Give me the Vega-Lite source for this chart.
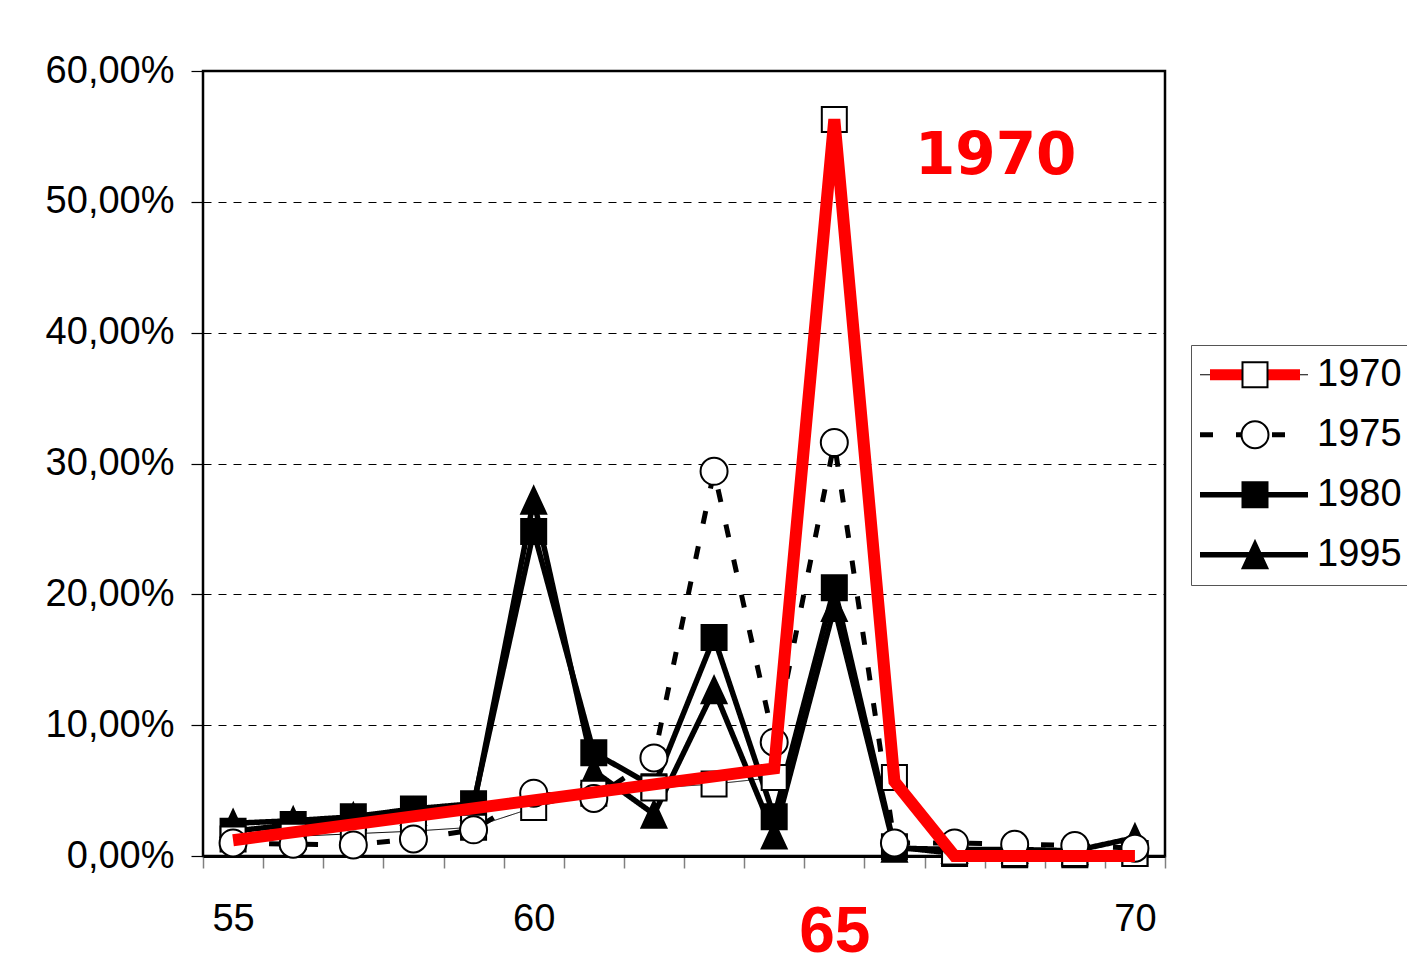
{
  "$schema": "https://vega.github.io/schema/vega-lite/v6.json",
  "width": 962,
  "height": 785,
  "autosize": {"type": "none"},
  "padding": {"left": 203, "top": 71, "right": 242, "bottom": 118},
  "background": "white",
  "config": {
    "font": "Liberation Sans",
    "view": {"stroke": "black", "strokeWidth": 2.5},
    "axis": {"labelFont": "Liberation Sans", "labelColor": "black", "title": null},
    "legend": {"labelFont": "Liberation Sans"}
  },
  "datasets": {
    "shares": [
      {"age": 55, "series": "1995", "share": 2.5},
      {"age": 56, "series": "1995", "share": 2.7},
      {"age": 57, "series": "1995", "share": 3.0},
      {"age": 58, "series": "1995", "share": 3.4},
      {"age": 59, "series": "1995", "share": 3.8},
      {"age": 60, "series": "1995", "share": 27.2},
      {"age": 61, "series": "1995", "share": 6.5},
      {"age": 62, "series": "1995", "share": 3.2},
      {"age": 63, "series": "1995", "share": 12.7},
      {"age": 64, "series": "1995", "share": 1.6},
      {"age": 65, "series": "1995", "share": 19.0},
      {"age": 66, "series": "1995", "share": 0.6},
      {"age": 67, "series": "1995", "share": 0.5},
      {"age": 68, "series": "1995", "share": 0.5},
      {"age": 69, "series": "1995", "share": 0.4},
      {"age": 70, "series": "1995", "share": 1.4},
      {"age": 55, "series": "1980", "share": 1.9},
      {"age": 56, "series": "1980", "share": 2.4},
      {"age": 57, "series": "1980", "share": 3.0},
      {"age": 58, "series": "1980", "share": 3.6},
      {"age": 59, "series": "1980", "share": 4.0},
      {"age": 60, "series": "1980", "share": 24.8},
      {"age": 61, "series": "1980", "share": 7.9},
      {"age": 62, "series": "1980", "share": 5.3},
      {"age": 63, "series": "1980", "share": 16.7},
      {"age": 64, "series": "1980", "share": 3.0},
      {"age": 65, "series": "1980", "share": 20.5},
      {"age": 66, "series": "1980", "share": 0.7},
      {"age": 67, "series": "1980", "share": 0.2},
      {"age": 68, "series": "1980", "share": 0.1},
      {"age": 69, "series": "1980", "share": 0.1},
      {"age": 70, "series": "1980", "share": 0.2},
      {"age": 55, "series": "1970", "share": 1.3},
      {"age": 56, "series": "1970", "share": 1.5},
      {"age": 57, "series": "1970", "share": 1.7},
      {"age": 58, "series": "1970", "share": 1.9},
      {"age": 59, "series": "1970", "share": 2.2},
      {"age": 60, "series": "1970", "share": 3.7},
      {"age": 61, "series": "1970", "share": 4.8},
      {"age": 62, "series": "1970", "share": 5.2},
      {"age": 63, "series": "1970", "share": 5.5},
      {"age": 64, "series": "1970", "share": 6.0},
      {"age": 65, "series": "1970", "share": 56.3},
      {"age": 66, "series": "1970", "share": 6.0},
      {"age": 67, "series": "1970", "share": 0.3},
      {"age": 68, "series": "1970", "share": 0.2},
      {"age": 69, "series": "1970", "share": 0.2},
      {"age": 70, "series": "1970", "share": 0.2},
      {"age": 55, "series": "1975", "share": 1.0},
      {"age": 56, "series": "1975", "share": 0.9},
      {"age": 57, "series": "1975", "share": 0.85},
      {"age": 58, "series": "1975", "share": 1.3},
      {"age": 59, "series": "1975", "share": 2.0},
      {"age": 60, "series": "1975", "share": 4.8},
      {"age": 61, "series": "1975", "share": 4.4},
      {"age": 62, "series": "1975", "share": 7.5},
      {"age": 63, "series": "1975", "share": 29.4},
      {"age": 64, "series": "1975", "share": 8.7},
      {"age": 65, "series": "1975", "share": 31.6},
      {"age": 66, "series": "1975", "share": 1.0},
      {"age": 67, "series": "1975", "share": 1.0},
      {"age": 68, "series": "1975", "share": 0.9},
      {"age": 69, "series": "1975", "share": 0.8},
      {"age": 70, "series": "1975", "share": 0.6}
    ],
    "highlight": [
      {"age": 55, "series": "1970", "share": 1.2},
      {"age": 64, "series": "1970", "share": 6.7},
      {"age": 65, "series": "1970", "share": 56.3},
      {"age": 66, "series": "1970", "share": 5.7},
      {"age": 67, "series": "1970", "share": 0},
      {"age": 70, "series": "1970", "share": 0}
    ]
  },
  "layer": [
    {
      "data": {"name": "shares"},
      "mark": {"type": "line", "color": "black", "strokeCap": "butt"},
      "encoding": {
        "x": {
          "field": "age",
          "type": "ordinal",
          "scale": {"type": "band", "paddingInner": 0, "paddingOuter": 0},
          "axis": {
            "tickBand": "extent",
            "labelAngle": 0,
            "labelOverlap": false,
            "labelExpr": "datum.value % 5 === 0 ? datum.label : ''",
            "labelFontSize": {"condition": {"test": "datum.value === 65", "value": 64}, "value": 38},
            "labelFontWeight": {"condition": {"test": "datum.value === 65", "value": "bold"}, "value": "normal"},
            "labelColor": {"condition": {"test": "datum.value === 65", "value": "#ff0000"}, "value": "black"},
            "labelBaseline": "top",
            "labelPadding": 32,
            "tickColor": "#808080",
            "tickSize": 12,
            "tickWidth": 1.5,
            "domainColor": "black",
            "domainWidth": 3,
            "grid": false
          }
        },
        "y": {
          "field": "share",
          "type": "quantitative",
          "scale": {"domain": [0, 60], "nice": false},
          "axis": {
            "values": [0, 10, 20, 30, 40, 50, 60],
            "labelExpr": "replace(format(datum.value, '.2f'), '.', ',') + '%'",
            "labelFontSize": 38,
            "labelPadding": 17,
            "tickSize": 12,
            "tickColor": "black",
            "tickWidth": 1.2,
            "domain": false,
            "grid": true,
            "gridColor": "black",
            "gridDash": [8, 7],
            "gridWidth": 1,
            "gridOpacity": 1
          }
        },
        "strokeDash": {
          "field": "series",
          "type": "nominal",
          "scale": {"domain": ["1970", "1975", "1980", "1995"], "range": [[1, 0], [13, 23], [1, 0], [1, 0]]},
          "legend": {
            "orient": "none",
            "legendX": 988,
            "legendY": 274,
            "title": null,
            "zindex": 1,
            "padding": 0,
            "rowPadding": 0,
            "clipHeight": 59.5,
            "symbolSize": 400,
            "symbolOffset": 45,
            "labelOffset": 146,
            "labelFontSize": 38,
            "labelExpr": "' '",
            "strokeColor": "#555555",
            "fillColor": "white",
            "symbolType": "M-5.5,0H5.3",
            "symbolStrokeColor": "black",
            "symbolFillColor": "transparent",
            "symbolOpacity": 1
          }
        },
        "strokeWidth": {
          "field": "series",
          "type": "nominal",
          "scale": {"type": "ordinal", "domain": ["1970", "1975", "1980", "1995"], "range": [1, 5, 5.5, 5.5]},
          "legend": {
            "orient": "none",
            "legendX": 988,
            "legendY": 274,
            "title": null,
            "zindex": 1,
            "padding": 0,
            "rowPadding": 0,
            "clipHeight": 59.5,
            "symbolSize": 400,
            "symbolOffset": 45,
            "labelOffset": 146,
            "labelFontSize": 38,
            "labelExpr": "' '",
            "strokeColor": "#555555",
            "fillColor": "white",
            "symbolType": "M-5.5,0H5.3",
            "symbolStrokeColor": "black",
            "symbolFillColor": "transparent",
            "symbolOpacity": 1
          }
        }
      }
    },
    {
      "data": {"name": "shares"},
      "mark": {"type": "point", "filled": true, "strokeWidth": 2, "size": 729, "opacity": 1},
      "encoding": {
        "x": {"field": "age", "type": "ordinal"},
        "y": {"field": "share", "type": "quantitative"},
        "shape": {
          "field": "series",
          "type": "nominal",
          "scale": {"range": ["M-0.926,-0.926H0.926V0.926H-0.926Z", "circle", "M-0.926,-0.926H0.926V0.926H-0.926Z", "M0,-1L0.926,1H-0.926Z"]},
          "legend": {
            "orient": "none",
            "legendX": 988,
            "legendY": 274,
            "title": null,
            "zindex": 3,
            "padding": 0,
            "rowPadding": 0,
            "clipHeight": 59.5,
            "symbolSize": 729,
            "symbolOffset": 45,
            "labelOffset": 43,
            "labelFontSize": 38,
            "labelColor": "black",
            "symbolStrokeWidth": 2,
            "symbolOpacity": 1
          }
        },
        "fill": {
          "field": "series",
          "type": "nominal",
          "scale": {"range": ["white", "white", "black", "black"]},
          "legend": {
            "orient": "none",
            "legendX": 988,
            "legendY": 274,
            "title": null,
            "zindex": 3,
            "padding": 0,
            "rowPadding": 0,
            "clipHeight": 59.5,
            "symbolSize": 729,
            "symbolOffset": 45,
            "labelOffset": 43,
            "labelFontSize": 38,
            "labelColor": "black",
            "symbolStrokeWidth": 2,
            "symbolOpacity": 1
          }
        },
        "stroke": {
          "field": "series",
          "type": "nominal",
          "scale": {"range": ["black", "black", "black", "black"]},
          "legend": {
            "orient": "none",
            "legendX": 988,
            "legendY": 274,
            "title": null,
            "zindex": 3,
            "padding": 0,
            "rowPadding": 0,
            "clipHeight": 59.5,
            "symbolSize": 729,
            "symbolOffset": 45,
            "labelOffset": 43,
            "labelFontSize": 38,
            "labelColor": "black",
            "symbolStrokeWidth": 2,
            "symbolOpacity": 1
          }
        }
      }
    },
    {
      "data": {"name": "highlight"},
      "mark": {"type": "line", "strokeWidth": 12, "strokeJoin": "miter", "strokeCap": "butt"},
      "encoding": {
        "x": {"field": "age", "type": "ordinal"},
        "y": {"field": "share", "type": "quantitative"},
        "color": {
          "field": "series",
          "type": "nominal",
          "scale": {"range": ["#ff0000"]},
          "legend": {
            "orient": "none",
            "legendX": 988,
            "legendY": 274,
            "title": null,
            "zindex": 2,
            "padding": 0,
            "rowPadding": 0,
            "clipHeight": 59.5,
            "symbolSize": 400,
            "symbolOffset": 45,
            "labelOffset": 146,
            "labelFontSize": 38,
            "labelExpr": "' '",
            "symbolType": "M-4.5,0H4.5",
            "symbolStrokeWidth": 11,
            "symbolFillColor": "transparent",
            "symbolOpacity": 1
          }
        }
      }
    },
    {
      "data": {"values": [{"note": "1970"}]},
      "mark": {"type": "text", "font": "DejaVu Sans", "fontWeight": "bold", "fontSize": 58, "color": "#ff0000", "align": "center", "baseline": "alphabetic", "dx": -19},
      "encoding": {
        "x": {"datum": 68, "type": "ordinal"},
        "y": {"datum": 52.1, "type": "quantitative"},
        "text": {"field": "note"}
      }
    }
  ]
}
